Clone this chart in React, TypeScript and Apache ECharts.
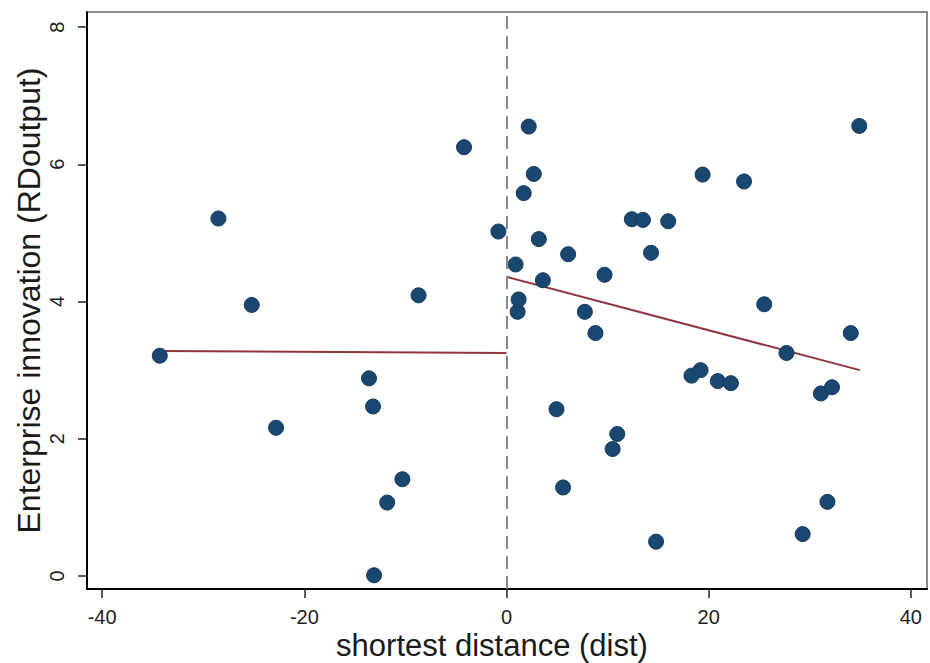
import React, { useEffect, useRef } from "react";
import * as echarts from "echarts";

const xTicks = [-40, -20, 0, 20, 40];
const yTicks = [0, 2, 4, 6, 8];

const distLeft = [-34.3, -28.5, -25.2, -22.8, -13.6, -13.2, -13.1, -11.8, -10.3, -8.7, -4.2, -0.8];
const rdLeft = [3.21, 5.21, 3.95, 2.16, 2.88, 2.47, 0.01, 1.07, 1.41, 4.09, 6.25, 5.02];

const distRight = [0.9, 1.1, 1.2, 1.7, 2.2, 2.7, 3.2, 3.6, 4.95, 5.6, 6.1, 7.75, 8.8, 9.7, 10.5, 10.96, 12.4, 13.5, 14.3, 14.8, 16.0, 18.3, 19.2, 19.4, 20.9, 22.2, 23.5, 25.5, 27.7, 29.3, 31.1, 31.75, 32.2, 34.06, 34.9];
const rdRight = [4.54, 3.85, 4.03, 5.58, 6.55, 5.86, 4.91, 4.31, 2.43, 1.29, 4.69, 3.85, 3.54, 4.39, 1.85, 2.07, 5.2, 5.19, 4.71, 0.5, 5.17, 2.92, 3.0, 5.85, 2.84, 2.81, 5.75, 3.96, 3.25, 0.61, 2.66, 1.08, 2.75, 3.54, 6.56];

const fitLeftX = [-34.3, 0];
const fitLeftY = [3.28, 3.25];
const fitRightX = [0, 34.95];
const fitRightY = [4.36, 3.0];

const FONT = "'Liberation Sans', Arial, sans-serif";

export default function App() {
  const ref = useRef<HTMLDivElement>(null);
  useEffect(() => {
    if (!ref.current) return;
    const chart = echarts.init(ref.current, null, { renderer: "svg" });
    const scatterData = [
      ...distLeft.map((x, i) => [x, rdLeft[i]]),
      ...distRight.map((x, i) => [x, rdRight[i]]),
    ];
    chart.setOption({
      animation: false,
      backgroundColor: "#ffffff",
      grid: {
        left: 87,
        right: 3,
        top: 12,
        bottom: 74,
        show: true,
        borderColor: "#666666",
        borderWidth: 1.5,
        outerBoundsMode: "none",
        containLabel: false,
      },
      xAxis: {
        type: "value",
        min: -41.5,
        max: 41.6,
        name: "shortest distance (dist)",
        nameLocation: "middle",
        nameGap: 41,
        nameMoveOverlap: false,
        nameTextStyle: { fontFamily: FONT, fontSize: 31, color: "#1a1a1a", padding: [0, 30, 0, 0] },
        axisLine: { show: true, onZero: false, lineStyle: { color: "#000", width: 2 } },
        axisTick: { show: true, length: 9, customValues: xTicks, lineStyle: { color: "#222", width: 1.5 } },
        axisLabel: { customValues: xTicks, margin: 18, fontFamily: FONT, fontSize: 20, color: "#222" },
        splitLine: { show: false },
      },
      yAxis: {
        type: "value",
        min: -0.19,
        max: 8.22,
        name: "Enterprise innovation (RDoutput)",
        nameLocation: "middle",
        nameRotate: 90,
        nameGap: 42,
        nameMoveOverlap: false,
        nameTextStyle: { fontFamily: FONT, fontSize: 32, color: "#1a1a1a" },
        axisLine: { show: true, onZero: false, lineStyle: { color: "#000", width: 2 } },
        axisTick: { show: true, length: 9, customValues: yTicks, lineStyle: { color: "#222", width: 1.5 } },
        axisLabel: { customValues: yTicks, rotate: 90, margin: 20, fontFamily: FONT, fontSize: 20, color: "#222" },
        splitLine: { show: false },
      },
      series: [
        {
          type: "line",
          data: fitLeftX.map((x, i) => [x, fitLeftY[i]]),
          symbol: "none",
          lineStyle: { color: "#90353b", width: 2 },
          z: 3,
        },
        {
          type: "line",
          data: fitRightX.map((x, i) => [x, fitRightY[i]]),
          symbol: "none",
          lineStyle: { color: "#90353b", width: 2 },
          z: 3,
        },
        {
          type: "scatter",
          data: scatterData,
          symbol: "circle",
          symbolSize: 15,
          itemStyle: { color: "#1a476f", borderColor: "#123a5e", borderWidth: 1, opacity: 1 },
          z: 4,
          markLine: {
            silent: true,
            symbol: "none",
            label: { show: false },
            lineStyle: { color: "#888888", type: [13, 7], width: 2 },
            data: [{ xAxis: 0 }],
          },
        },
      ],
    });
    return () => chart.dispose();
  }, []);
  return (
    <div
      ref={ref}
      style={{ position: "absolute", left: 0, top: 0, width: 930, height: 663 }}
    />
  );
}
